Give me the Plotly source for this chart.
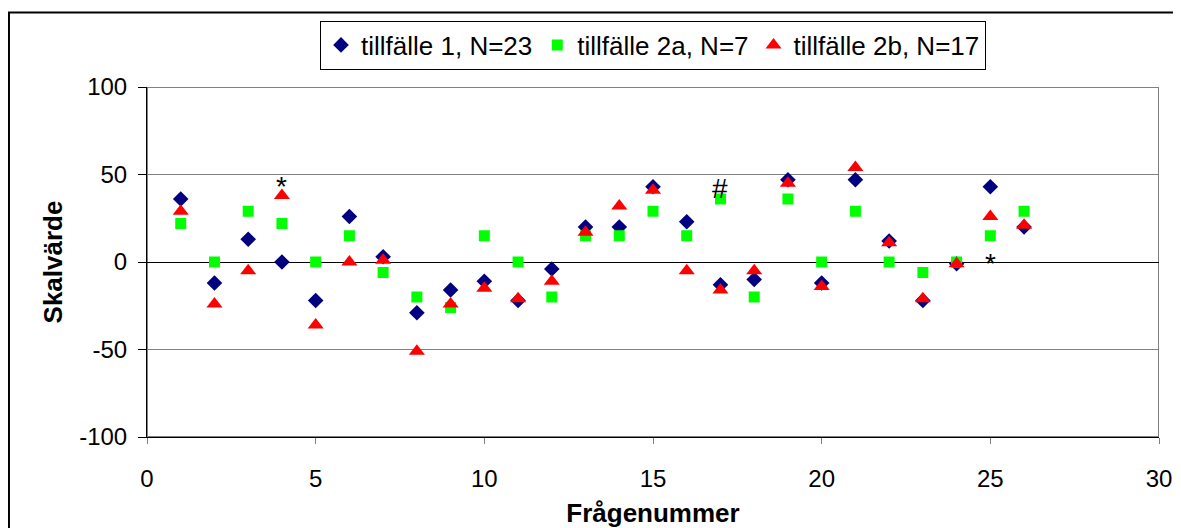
import plotly.graph_objects as go

FONT = "Liberation Sans, Arial, sans-serif"

# question numbers
fragor = list(range(1, 27))

# scale values per occasion
tillfalle_1 = [36, -12, 13, 0, -22, 26, 3, -29, -16, -11, -22, -4, 20, 20, 43, 23, -13, -10, 47, -12, 47, 12, -22, -1, 43, 20]
tillfalle_2a = [22, 0, 29, 22, 0, 15, -6, -20, -26, 15, 0, -20, 15, 15, 29, 15, 36, -20, 36, 0, 29, 0, -6, 0, 15, 29]
tillfalle_2b = [29, -24, -5, 38, -36, 0, 1, -51, -24, -15, -21, -11, 17, 32, 41, -5, -16, -5, 45, -14, 54, 11, -21, -1, 26, 21]

# y tick labels (plain hyphen minus as in the original)
y_ticks = [-100, -50, 0, 50, 100]
y_ticktext = ["-100", "-50", "0", "50", "100"]

# significance marks
mark_x = [4, 17, 25]
mark_y = [43, 42, -1]
mark_text = ["*", "#", "*"]

fig = go.Figure()
fig.add_trace(go.Scatter(
    x=fragor, y=tillfalle_1, mode="markers", name="tillfälle 1, N=23",
    marker=dict(symbol="diamond", size=12, color="#000080"),
))
fig.add_trace(go.Scatter(
    x=fragor, y=tillfalle_2a, mode="markers", name="tillfälle 2a, N=7",
    marker=dict(symbol="square", size=11, color="#00FF00"),
))
fig.add_trace(go.Scatter(
    x=fragor, y=tillfalle_2b, mode="markers", name="tillfälle 2b, N=17",
    marker=dict(symbol="triangle-up", size=14, color="#FF0000"),
))

for mx, my, mt in zip(mark_x, mark_y, mark_text):
    fig.add_annotation(x=mx, y=my, text=mt, showarrow=False,
                       font=dict(family=FONT, size=28, color="black"))

# plot area border (grey) and chart border (black)
fig.add_shape(type="rect", xref="x", yref="y", x0=0, x1=30, y0=-100, y1=100,
              line=dict(color="#808080", width=2), layer="below")
fig.add_shape(type="rect", xref="paper", yref="paper",
              x0=-0.1364, x1=1.0178, y0=-0.29, y1=1.213,
              line=dict(color="black", width=2))

fig.update_xaxes(
    range=[0, 30], dtick=5, showgrid=False, zeroline=False,
    showline=True, linecolor="black", linewidth=1,
    ticks="outside", ticklen=6, tickcolor="#808080",
    ticklabelstandoff=14, automargin=False,
    tickfont=dict(family=FONT, size=24, color="black"),
    title=dict(text="<b>Frågenummer</b>", standoff=14,
               font=dict(family=FONT, size=26, color="black")),
)
fig.update_yaxes(
    range=[-100, 100], tickmode="array", tickvals=y_ticks, ticktext=y_ticktext,
    showgrid=True, gridcolor="#808080", gridwidth=1,
    zeroline=True, zerolinecolor="black", zerolinewidth=1,
    showline=True, linecolor="black", linewidth=1,
    ticks="outside", ticklen=8, tickcolor="black",
    ticklabelstandoff=6, automargin=False,
    tickfont=dict(family=FONT, size=24, color="black"),
    title=dict(text="<b>Skalvärde</b>", standoff=9,
               font=dict(family=FONT, size=26, color="black")),
)

fig.update_layout(
    width=1173, height=520,
    margin=dict(l=139, r=22, t=77, b=91),
    plot_bgcolor="white", paper_bgcolor="white",
    font=dict(family=FONT, size=24, color="black"),
    legend=dict(
        orientation="h", x=0.5, xanchor="center", y=1.19, yanchor="top",
        bordercolor="black", borderwidth=1, bgcolor="white",
        font=dict(family=FONT, size=26, color="black"),
        itemwidth=30, tracegroupgap=0,
    ),
    showlegend=True,
)

fig.write_html("out.html")
